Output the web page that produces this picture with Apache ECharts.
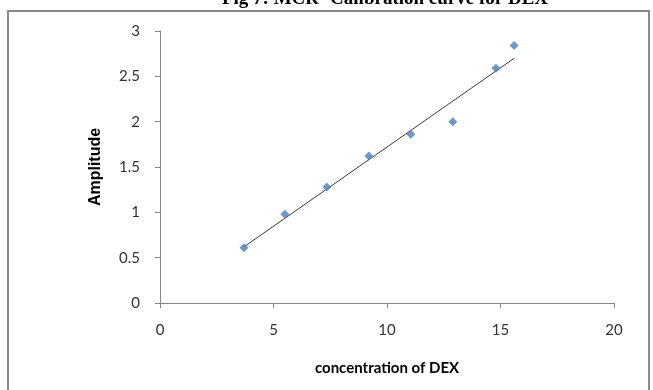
<!DOCTYPE html>
<html><head><meta charset="utf-8">
<script src="https://cdn.jsdelivr.net/npm/echarts@6/dist/echarts.min.js"></script>
<style>html,body{margin:0;padding:0;background:#fff}#c{width:653px;height:390px}</style>
</head><body><div id="c"></div>
<script>
var titleText = "Fig 7: MCR- Calibration curve for DEX";
var xName = "concentration of DEX";
var yName = "Amplitude";
var concentration = [3.7, 5.5, 7.35, 9.2, 11.05, 12.9, 14.8, 15.6];
var amplitude = [0.61, 0.98, 1.28, 1.62, 1.86, 2.0, 2.59, 2.84];
var xTicks = [0, 5, 10, 15, 20];
var yTicks = [0, 0.5, 1, 1.5, 2, 2.5, 3];

// least-squares trendline from the data
var n = concentration.length, sx = 0, sy = 0, sxx = 0, sxy = 0;
for (var i = 0; i < n; i++) { sx += concentration[i]; sy += amplitude[i]; sxx += concentration[i]*concentration[i]; sxy += concentration[i]*amplitude[i]; }
var slope = (n*sxy - sx*sy) / (n*sxx - sx*sx);
var icpt = (sy - slope*sx) / n;
var xmin = Math.min.apply(null, concentration), xmax = Math.max.apply(null, concentration);
var trend = [[xmin, slope*xmin + icpt], [xmax, slope*xmax + icpt]];

var chart = echarts.init(document.getElementById('c'), null, {renderer: 'canvas'});
var tickFont = {fontFamily: 'Lato, "Open Sans", sans-serif', fontSize: 15, color: '#333'};
chart.setOption({
  animation: false,
  backgroundColor: '#fff',
  graphic: [
    {type: 'rect', shape: {x: 8, y: 11, width: 641, height: 390}, style: {fill: 'none', stroke: '#8a8a8a', lineWidth: 2}, silent: true, z: 10},
    {type: 'text', x: 385, y: 9, silent: true, z: 5,
      style: {text: titleText, textAlign: 'center', textVerticalAlign: 'bottom',
        font: 'bold 19px "Liberation Serif", "DejaVu Serif", serif', fill: '#000'}},
    {type: 'rect', shape: {x: 0, y: 10, width: 653, height: 12}, style: {fill: '#fff'}, silent: true, z: 6}
  ],
  grid: {left: 160, right: 39, top: 31, bottom: 87},
  xAxis: {type: 'value', min: xTicks[0], max: xTicks[xTicks.length-1], interval: 5,
    name: xName, nameLocation: 'middle', nameGap: 58,
    nameTextStyle: {fontFamily: 'Lato, "Open Sans", sans-serif', fontWeight: 'bold', fontSize: 15, color: '#000'},
    axisLine: {lineStyle: {color: '#868686'}}, axisTick: {show: true, length: 5, lineStyle: {color: '#868686'}},
    splitLine: {show: false}, axisLabel: Object.assign({margin: 20}, tickFont)},
  yAxis: {type: 'value', min: yTicks[0], max: yTicks[yTicks.length-1], interval: 0.5,
    name: yName, nameLocation: 'middle', nameGap: 56, nameRotate: 90,
    nameTextStyle: {fontFamily: '"Liberation Sans Narrow", "Liberation Sans", sans-serif', fontWeight: 'bold', fontSize: 16, color: '#000'},
    axisLine: {show: true, lineStyle: {color: '#868686'}}, axisTick: {show: true, length: 5, lineStyle: {color: '#868686'}},
    splitLine: {show: false}, axisLabel: Object.assign({margin: 20}, tickFont)},
  series: [
    {type: 'line', data: trend, symbol: 'none', lineStyle: {color: '#3a3a3a', width: 1}, z: 2},
    {type: 'scatter', data: concentration.map(function(x, i){ return [x, amplitude[i]]; }),
      symbol: 'diamond', symbolSize: [9, 9], itemStyle: {color: '#4a7ebb'}, z: 3}
  ]
});
</script></body></html>
